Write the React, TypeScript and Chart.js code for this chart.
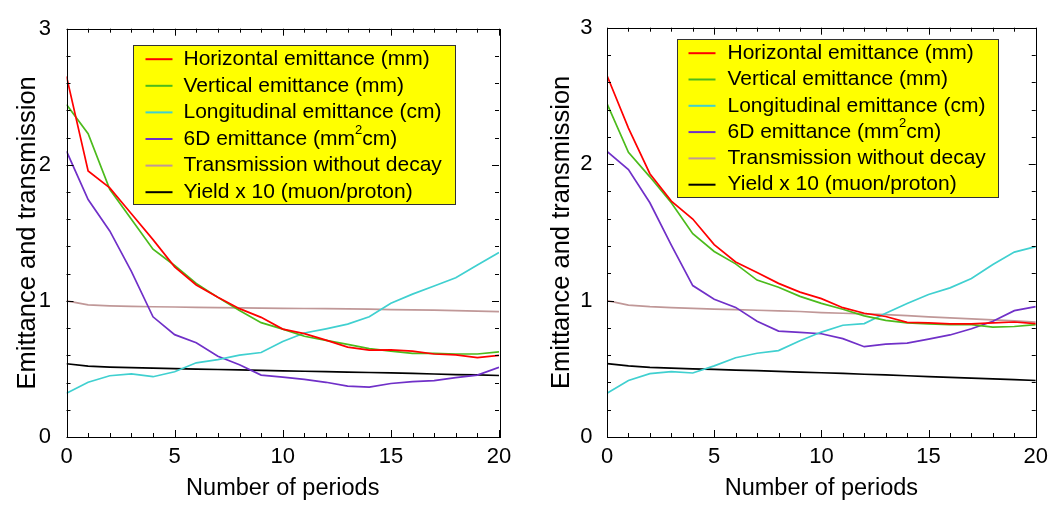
import React, { useEffect, useRef } from 'react';
import { Chart, registerables } from 'chart.js';

Chart.register(...registerables);

// ---------- data ----------
const periods = [0, 1, 2, 3, 4, 5, 6, 7, 8, 9, 10, 11, 12, 13, 14, 15, 16, 17, 18, 19, 20];

const seriesLabels = [
  'Horizontal emittance (mm)',
  'Vertical emittance (mm)',
  'Longitudinal emittance (cm)',
  '6D emittance (mm\u00b2cm)',
  'Transmission without decay',
  'Yield x 10 (muon/proton)',
];

const leftHorizontal = [2.65, 1.955, 1.83, 1.64, 1.45, 1.25, 1.117, 1.026, 0.943, 0.879, 0.793, 0.76, 0.712, 0.66, 0.638, 0.64, 0.631, 0.61, 0.603, 0.583, 0.6];
const leftVertical = [2.443, 2.229, 1.82, 1.6, 1.38, 1.26, 1.128, 1.026, 0.93, 0.84, 0.793, 0.74, 0.71, 0.68, 0.65, 0.631, 0.614, 0.614, 0.61, 0.61, 0.626];
const leftLongitudinal = [0.321, 0.402, 0.45, 0.464, 0.443, 0.479, 0.545, 0.569, 0.602, 0.621, 0.702, 0.764, 0.795, 0.829, 0.883, 0.983, 1.05, 1.11, 1.17, 1.264, 1.355];
const left6D = [2.1, 1.745, 1.514, 1.217, 0.883, 0.752, 0.693, 0.593, 0.531, 0.455, 0.44, 0.424, 0.402, 0.374, 0.367, 0.393, 0.407, 0.414, 0.436, 0.455, 0.512];
const leftTransmission = [1.0, 0.971, 0.964, 0.96, 0.957, 0.955, 0.953, 0.951, 0.949, 0.947, 0.945, 0.944, 0.943, 0.941, 0.939, 0.936, 0.934, 0.932, 0.929, 0.925, 0.921];
const leftYield = [0.538, 0.521, 0.514, 0.51, 0.506, 0.502, 0.499, 0.496, 0.493, 0.489, 0.486, 0.483, 0.48, 0.477, 0.474, 0.471, 0.467, 0.463, 0.459, 0.456, 0.452];

const rightHorizontal = [2.65, 2.264, 1.93, 1.729, 1.598, 1.41, 1.283, 1.205, 1.126, 1.062, 1.014, 0.948, 0.907, 0.883, 0.84, 0.836, 0.829, 0.829, 0.836, 0.843, 0.831];
const rightVertical = [2.443, 2.086, 1.907, 1.717, 1.49, 1.36, 1.269, 1.15, 1.098, 1.031, 0.979, 0.936, 0.888, 0.855, 0.836, 0.829, 0.824, 0.824, 0.805, 0.81, 0.824];
const rightLongitudinal = [0.321, 0.414, 0.464, 0.479, 0.469, 0.521, 0.581, 0.614, 0.633, 0.705, 0.769, 0.819, 0.831, 0.907, 0.979, 1.045, 1.093, 1.162, 1.264, 1.355, 1.395];
const right6D = [2.093, 1.96, 1.717, 1.407, 1.11, 1.01, 0.95, 0.848, 0.776, 0.767, 0.757, 0.721, 0.662, 0.681, 0.688, 0.717, 0.748, 0.793, 0.848, 0.926, 0.955];
const rightTransmission = [1.0, 0.967, 0.955, 0.948, 0.943, 0.938, 0.934, 0.929, 0.924, 0.92, 0.912, 0.907, 0.902, 0.897, 0.889, 0.88, 0.873, 0.866, 0.858, 0.851, 0.843];
const rightYield = [0.538, 0.521, 0.51, 0.505, 0.5, 0.495, 0.49, 0.486, 0.481, 0.476, 0.471, 0.466, 0.46, 0.455, 0.449, 0.443, 0.437, 0.432, 0.426, 0.42, 0.414];

const xTitle = 'Number of periods';
const yTitle = 'Emittance and transmission';

// ---------- styles ----------
const FONT = "'Liberation Sans', Arial, Helvetica, sans-serif";
const seriesColors = ['#ff0000', '#4cbb1c', '#40d0d0', '#7030c8', '#c09898', '#000000'];

const X_MINOR = 1;
const X_MAJOR = 5;
const Y_MINOR = 0.2;
const Y_MAJOR = 1;

const frameTicksPlugin = {
  id: 'frameTicks',
  afterDatasetsDraw(chart: any) {
    const { ctx, chartArea: a, scales } = chart;
    const xs = scales.x;
    const ys = scales.y;
    ctx.save();
    ctx.strokeStyle = '#000';
    ctx.lineWidth = 1;
    ctx.beginPath();
    const nx = Math.round((xs.max - xs.min) / X_MINOR);
    for (let i = 0; i <= nx; i++) {
      const v = xs.min + i * X_MINOR;
      const px = Math.round(xs.getPixelForValue(v)) + 0.5;
      const major = Math.abs(v / X_MAJOR - Math.round(v / X_MAJOR)) < 1e-6;
      const len = major ? 7 : 4;
      ctx.moveTo(px, a.bottom);
      ctx.lineTo(px, a.bottom - len);
      ctx.moveTo(px, a.top);
      ctx.lineTo(px, a.top + len);
    }
    const ny = Math.round((ys.max - ys.min) / Y_MINOR);
    for (let i = 0; i <= ny; i++) {
      const v = ys.min + i * Y_MINOR;
      const py = Math.round(ys.getPixelForValue(v)) + 0.5;
      const major = Math.abs(v / Y_MAJOR - Math.round(v / Y_MAJOR)) < 1e-6;
      const len = major ? 7 : 4;
      ctx.moveTo(a.left, py);
      ctx.lineTo(a.left + len, py);
      ctx.moveTo(a.right, py);
      ctx.lineTo(a.right - len, py);
    }
    ctx.stroke();
    ctx.strokeRect(Math.round(a.left) + 0.5, Math.round(a.top) + 0.5, Math.round(a.right - a.left), Math.round(a.bottom - a.top));
    ctx.restore();
  },
};

const boxLegendPlugin = {
  id: 'boxLegend',
  afterDraw(chart: any, _args: any, opts: any) {
    const { ctx, chartArea: a } = chart;
    const bx = Math.round(a.left + opts.left) + 0.5;
    const by = Math.round(a.top + opts.top) + 0.5;
    ctx.save();
    ctx.fillStyle = '#ffff00';
    ctx.fillRect(bx, by, opts.width, opts.height);
    ctx.strokeStyle = '#333';
    ctx.lineWidth = 1;
    ctx.strokeRect(bx, by, opts.width, opts.height);
    const ds = chart.data.datasets;
    ctx.textBaseline = 'middle';
    ctx.textAlign = 'left';
    ds.forEach((d: any, i: number) => {
      const y = by + opts.rowTop + i * opts.rowGap;
      ctx.strokeStyle = d.borderColor;
      ctx.lineWidth = 2;
      ctx.beginPath();
      ctx.moveTo(bx + opts.lineStart, y);
      ctx.lineTo(bx + opts.lineEnd, y);
      ctx.stroke();
      ctx.fillStyle = '#000';
      const label: string = d.label;
      let tx = bx + opts.textX;
      const parts = label.split('\u00b2');
      ctx.font = `${opts.fontSize}px ${FONT}`;
      if (parts.length === 2) {
        ctx.fillText(parts[0], tx, y);
        tx += ctx.measureText(parts[0]).width;
        ctx.font = `${Math.round(opts.fontSize * 0.6)}px ${FONT}`;
        ctx.fillText('2', tx, y - opts.fontSize * 0.42);
        tx += ctx.measureText('2').width;
        ctx.font = `${opts.fontSize}px ${FONT}`;
        ctx.fillText(parts[1], tx, y);
      } else {
        ctx.fillText(label, tx, y);
      }
    });
    ctx.restore();
  },
};

type PanelProps = {
  series: number[][];
  left: number;
  canvasWidth: number;
  yAxisWidth: number;
  padRight: number;
  yTickPad: number;
  yTitlePad: number;
  legend: any;
};

function Panel(props: PanelProps) {
  const ref = useRef<HTMLCanvasElement | null>(null);
  useEffect(() => {
    if (!ref.current) return;
    const datasets = props.series.map((vals, i) => ({
      label: seriesLabels[i],
      data: periods.map((p, j) => ({ x: p, y: vals[j] })),
      borderColor: seriesColors[i],
      backgroundColor: seriesColors[i],
      borderWidth: 1.7,
      pointRadius: 0,
      tension: 0,
      fill: false,
    }));
    const chart = new Chart(ref.current, {
      type: 'line',
      data: { datasets },
      plugins: [frameTicksPlugin, boxLegendPlugin],
      options: {
        animation: false,
        responsive: false,
        layout: { padding: { top: 17, right: props.padRight, left: 0, bottom: 0 } },
        plugins: {
          legend: { display: false },
          tooltip: { enabled: false },
          boxLegend: props.legend,
        } as any,
        scales: {
          x: {
            type: 'linear',
            min: 0,
            max: 20,
            ticks: { stepSize: 5, color: '#000', padding: 7, font: { family: FONT, size: 22 } },
            grid: { display: false, drawTicks: false },
            border: { display: false },
            title: {
              display: true,
              text: xTitle,
              color: '#000',
              font: { family: FONT, size: 23.5 },
              padding: { top: 0, bottom: 2.9 },
            },
            afterFit: (s: any) => {
              s.height = 69;
            },
          },
          y: {
            type: 'linear',
            min: 0,
            max: 3,
            ticks: { stepSize: 1, color: '#000', padding: props.yTickPad, font: { family: FONT, size: 22 } },
            grid: { display: false, drawTicks: false },
            border: { display: false },
            title: {
              display: true,
              text: yTitle,
              color: '#000',
              font: { family: FONT, size: 25.5 },
              padding: { top: props.yTitlePad, bottom: 0 },
            },
            afterFit: (s: any) => {
              s.width = props.yAxisWidth;
            },
          },
        },
      } as any,
    });
    return () => chart.destroy();
  }, []);
  return (
    <canvas
      ref={ref}
      width={props.canvasWidth}
      height={506}
      style={{ position: 'absolute', left: props.left, top: 0, width: props.canvasWidth, height: 506, display: 'block' }}
    />
  );
}

export default function App() {
  return (
    <div style={{ position: 'fixed', left: 0, top: 0, width: 1055, height: 506, background: '#fff' }}>
      <Panel
        series={[leftHorizontal, leftVertical, leftLongitudinal, left6D, leftTransmission, leftYield]}
        left={0}
        canvasWidth={527}
        yAxisWidth={66.5}
        padRight={28}
        yTickPad={15.5}
        yTitlePad={12.9}
        legend={{ left: 66.5, top: 16, width: 322, height: 159, rowTop: 13.7, rowGap: 26.6, lineStart: 12, lineEnd: 39, textX: 50, fontSize: 21 }}
      />
      <Panel
        series={[rightHorizontal, rightVertical, rightLongitudinal, right6D, rightTransmission, rightYield]}
        left={528}
        canvasWidth={527}
        yAxisWidth={79}
        padRight={17.3}
        yTickPad={14.5}
        yTitlePad={18.2}
        legend={{ left: 70, top: 11, width: 321, height: 158, rowTop: 13.7, rowGap: 26.3, lineStart: 11, lineEnd: 38, textX: 50, fontSize: 21 }}
      />
    </div>
  );
}
